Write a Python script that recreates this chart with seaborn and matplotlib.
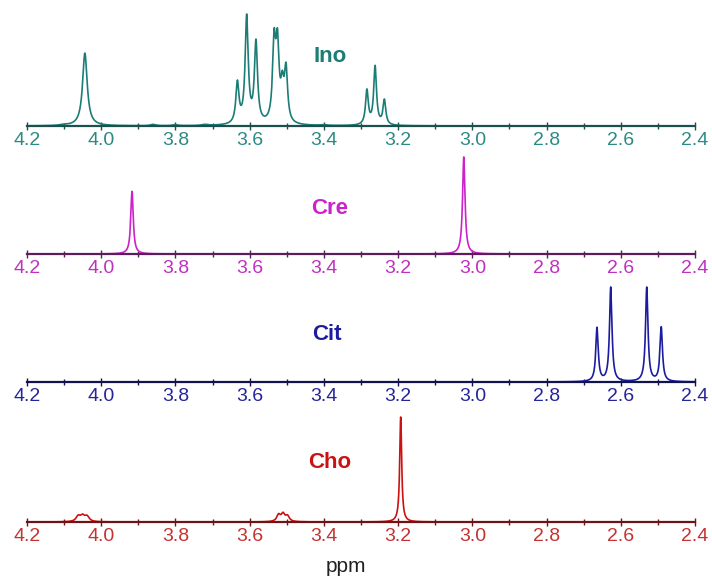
import numpy as np
import matplotlib
matplotlib.use("Agg")
import matplotlib.pyplot as plt
import seaborn as sns
from matplotlib.ticker import MultipleLocator

sns.set_theme(style="white")
plt.rcParams["font.family"] = ["Liberation Sans", "DejaVu Sans"]

# peak lists: centre (ppm), height (relative), half width (ppm)
ino_centers = [4.100, 4.044, 3.860, 3.800, 3.720, 3.633, 3.608, 3.583, 3.534, 3.525, 3.512, 3.502,
               3.400, 3.284, 3.262, 3.237]
ino_heights = [2, 212, 4, 3, 3, 118, 310, 235, 222, 210, 92, 150, 2, 100, 170, 72]
ino_widths = [0.010, 0.0075, 0.008, 0.008, 0.010, 0.005, 0.005, 0.005, 0.005, 0.005, 0.005,
              0.005, 0.010, 0.0045, 0.0045, 0.0045]

cre_centers = [3.917, 3.023]
cre_heights = [188, 291]
cre_widths = [0.004, 0.004]

cit_centers = [2.664, 2.627, 2.530, 2.491]
cit_heights = [158, 278, 278, 160]
cit_widths = [0.004, 0.004, 0.004, 0.004]

cho_centers = [4.062, 4.050, 4.038, 3.522, 3.510, 3.498, 3.193]
cho_heights = [16, 16, 15, 20, 22, 16, 315]
cho_widths = [0.007, 0.007, 0.007, 0.006, 0.006, 0.006, 0.0032]

labels = ["Ino", "Cre", "Cit", "Cho"]
line_colors = ["#1b7d76", "#cc22cc", "#1c1ca0", "#cc1111"]
axis_colors = ["#1d4f4c", "#5a1f5a", "#12124f", "#6e1414"]
tick_colors = ["#2b8a84", "#c030c0", "#25259a", "#c43232"]

# layout in pixels of the 712x578 canvas: baseline y, peak top y, label centre
baselines = [126, 254, 382, 522]
tops = [14, 157, 287, 417]
label_xy = [(330, 57), (330, 208), (327, 335), (330, 462)]

W, H = 712, 578
x = np.linspace(2.4, 4.2, 8000)


def spectrum(centers, heights, widths):
    y = np.zeros_like(x)
    for c, h, w in zip(centers, heights, widths):
        y += h / (1 + ((x - c) / w) ** 2)
    return y


spectra = [spectrum(ino_centers, ino_heights, ino_widths),
           spectrum(cre_centers, cre_heights, cre_widths),
           spectrum(cit_centers, cit_heights, cit_widths),
           spectrum(cho_centers, cho_heights, cho_widths)]

fig = plt.figure(figsize=(W / 100, H / 100), dpi=100)
left, right = 27, 695
ticks = np.round(np.arange(2.4, 4.21, 0.2), 1)

for i, y in enumerate(spectra):
    base, top = baselines[i], tops[i]
    ax = fig.add_axes([left / W, 1 - base / H, (right - left) / W, (base - top + 6) / H])
    sns.lineplot(x=x, y=y, ax=ax, color=line_colors[i], lw=1.2, sort=False)
    ax.set_xlim(4.2, 2.4)
    ax.set_ylim(0, y.max() * (base - top + 6) / (base - top))
    for s in ["top", "left", "right"]:
        ax.spines[s].set_visible(False)
    ax.spines["bottom"].set_color(axis_colors[i])
    ax.spines["bottom"].set_linewidth(1.6)
    ax.set_yticks([])
    ax.set_xticks(ticks)
    ax.set_xticklabels([f"{v:.1f}" for v in ticks])
    ax.xaxis.set_minor_locator(MultipleLocator(0.1))
    ax.tick_params(axis="x", which="major", direction="inout", length=6, width=1,
                   color=axis_colors[i], labelcolor=tick_colors[i], labelsize=14, pad=1,
                   bottom=True)
    ax.tick_params(axis="x", which="minor", direction="inout", length=5, width=1,
                   color=axis_colors[i], bottom=True)
    ax.patch.set_alpha(0)
    lx, ly = label_xy[i]
    fig.text(lx / W, 1 - ly / H, labels[i], color=line_colors[i], fontsize=16,
             fontweight="bold", ha="center", va="center")

fig.text(346 / W, 1 - 566 / H, "ppm", fontsize=15, ha="center", va="center", color="#222222")

fig.savefig("out.png", dpi=100)
